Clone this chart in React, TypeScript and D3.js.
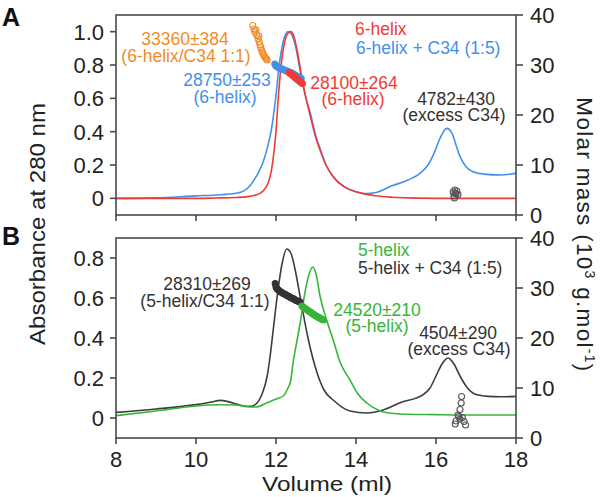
import React from "react";
import * as d3 from "d3";

type P = [number, number];

const volumeTicks = [8, 10, 12, 14, 16, 18];
const absTicksA = [0, 0.2, 0.4, 0.6, 0.8, 1.0];
const absTicksB = [0, 0.2, 0.4, 0.6, 0.8];
const massTicks = [0, 10, 20, 30, 40];

// Panel A absorbance traces [volume ml, A280]
const sixHelix: P[] = [
  [8.0, 0.0], [9.0, 0.0], [10.0, 0.0], [10.5, 0.002], [11.0, 0.005], [11.3, 0.01], [11.5, 0.02],
  [11.6, 0.03], [11.7, 0.05], [11.8, 0.09], [11.88, 0.16], [11.95, 0.28], [12.0, 0.4], [12.05, 0.58],
  [12.12, 0.78], [12.2, 0.92], [12.3, 0.99], [12.37, 1.0], [12.45, 0.97], [12.55, 0.86], [12.65, 0.72],
  [12.75, 0.6], [12.85, 0.5], [13.0, 0.36], [13.1, 0.29], [13.25, 0.2], [13.43, 0.13], [13.7, 0.07],
  [14.0, 0.04], [14.5, 0.015], [15.0, 0.005], [16.0, 0.0], [17.0, 0.0], [18.0, 0.0],
];
const sixHelixC34: P[] = [
  [8.0, 0.0], [9.0, 0.003], [10.0, 0.015], [10.5, 0.02], [11.0, 0.03], [11.2, 0.045], [11.35, 0.075],
  [11.45, 0.11], [11.55, 0.15], [11.68, 0.22], [11.78, 0.3], [11.89, 0.42], [11.99, 0.6], [12.08, 0.8],
  [12.18, 0.94], [12.3, 1.0], [12.4, 0.98], [12.5, 0.9], [12.6, 0.77], [12.75, 0.6], [12.85, 0.52],
  [13.0, 0.37], [13.1, 0.3], [13.25, 0.2], [13.43, 0.13], [13.7, 0.07], [14.0, 0.04], [14.25, 0.028],
  [14.5, 0.035], [14.9, 0.075], [15.3, 0.11], [15.6, 0.15], [15.8, 0.2], [15.95, 0.27], [16.1, 0.36],
  [16.27, 0.42], [16.4, 0.39], [16.5, 0.32], [16.6, 0.25], [16.75, 0.19], [16.93, 0.16], [17.2, 0.145],
  [17.6, 0.14], [18.0, 0.15],
];

// Panel B absorbance traces
const fiveHelixC34: P[] = [
  [8.0, 0.028], [9.0, 0.045], [10.0, 0.067], [10.4, 0.08], [10.6, 0.088], [10.8, 0.082], [11.0, 0.07],
  [11.2, 0.06], [11.35, 0.058], [11.5, 0.07], [11.65, 0.12], [11.78, 0.21], [11.86, 0.32], [11.93, 0.44],
  [12.05, 0.64], [12.15, 0.77], [12.27, 0.845], [12.38, 0.82], [12.5, 0.72], [12.6, 0.61], [12.8, 0.4],
  [13.02, 0.23], [13.2, 0.14], [13.43, 0.09], [13.85, 0.035], [14.27, 0.025], [14.68, 0.04], [15.1, 0.076],
  [15.68, 0.117], [15.85, 0.15], [16.0, 0.21], [16.15, 0.27], [16.3, 0.3], [16.45, 0.27], [16.6, 0.21],
  [16.75, 0.16], [17.0, 0.117], [17.3, 0.108], [17.6, 0.106], [18.0, 0.108],
];
const fiveHelix: P[] = [
  [8.0, 0.012], [9.0, 0.035], [10.0, 0.06], [10.5, 0.066], [11.0, 0.065], [11.3, 0.056], [11.5, 0.055],
  [11.77, 0.076], [12.0, 0.095], [12.18, 0.11], [12.3, 0.15], [12.36, 0.18], [12.43, 0.28], [12.5, 0.36],
  [12.6, 0.47], [12.7, 0.6], [12.8, 0.7], [12.92, 0.755], [13.0, 0.72], [13.1, 0.61], [13.25, 0.5],
  [13.43, 0.39], [13.6, 0.28], [13.85, 0.19], [14.05, 0.12], [14.27, 0.075], [14.5, 0.045], [14.68, 0.03],
  [15.1, 0.02], [16.0, 0.017], [17.0, 0.015], [18.0, 0.015],
];

// Molar mass points [volume ml, kg/mol]
const massA_orange: P[] = [
  [11.42, 37.9], [11.45, 37.2], [11.47, 36.6], [11.5, 37.0], [11.52, 36.0], [11.55, 35.3], [11.57, 35.8],
  [11.58, 34.6], [11.6, 34.0], [11.62, 33.5], [11.64, 33.0], [11.66, 32.6], [11.68, 32.2], [11.7, 31.9],
  [11.72, 31.6], [11.74, 31.4], [11.76, 31.2], [11.78, 31.0],
];
const massA_blue: P[] = [
  [11.97, 30.2], [12.0, 29.8], [12.03, 29.7], [12.06, 29.5], [12.09, 29.4], [12.12, 29.3], [12.15, 29.2],
  [12.18, 29.1], [12.21, 29.0], [12.24, 28.9], [12.27, 28.8], [12.3, 28.7], [12.33, 28.6], [12.36, 28.5],
  [12.39, 28.4], [12.42, 28.3], [12.45, 28.1], [12.48, 28.0], [12.51, 27.8], [12.54, 27.7], [12.57, 27.6],
  [12.6, 27.4], [12.63, 27.3],
];
const massA_red: P[] = [
  [12.33, 28.5], [12.36, 28.3], [12.39, 28.1], [12.42, 27.9], [12.45, 27.7], [12.48, 27.5], [12.51, 27.3],
  [12.54, 27.1], [12.57, 26.9], [12.6, 26.7], [12.63, 26.5], [12.66, 26.3],
];
const massA_excess: P[] = [
  [16.43, 4.6], [16.47, 5.0], [16.5, 4.2], [16.45, 3.8], [16.52, 4.8], [16.48, 4.4], [16.55, 4.1], [16.46, 3.4],
];
const massB_complex: P[] = [
  [11.98, 30.9], [12.0, 30.2], [12.03, 29.8], [12.06, 29.6], [12.09, 29.4], [12.12, 29.2], [12.15, 29.1],
  [12.18, 28.9], [12.21, 28.8], [12.24, 28.7], [12.27, 28.5], [12.3, 28.4], [12.33, 28.3], [12.36, 28.1],
  [12.39, 28.0], [12.42, 27.9], [12.45, 27.8], [12.48, 27.6], [12.51, 27.5], [12.54, 27.4], [12.57, 27.3],
  [12.6, 27.2],
];
const massB_green: P[] = [
  [12.65, 26.4], [12.68, 26.2], [12.71, 26.0], [12.74, 25.8], [12.77, 25.7], [12.8, 25.5], [12.83, 25.3],
  [12.86, 25.2], [12.89, 25.0], [12.92, 24.8], [12.95, 24.7], [12.98, 24.5], [13.01, 24.4], [13.04, 24.2],
  [13.07, 24.1], [13.1, 24.0], [13.13, 23.8], [13.16, 23.7], [13.19, 23.6],
];
const massB_excess: P[] = [
  [16.64, 8.3], [16.63, 7.0], [16.6, 5.7], [16.57, 4.3], [16.55, 4.6], [16.5, 3.4], [16.48, 2.8],
  [16.7, 3.3], [16.66, 4.1], [16.74, 2.6], [16.6, 3.8],
];

const RED = "#ef3b36";
const BLUE = "#4390ec";
const ORANGE = "#f28c28";
const GREEN = "#36b53a";
const DARK = "#3d3d3d";
const AXIS = "#4a4a4a";
const FONT = "'Liberation Sans', Arial, Helvetica, sans-serif";

const x = d3.scaleLinear().domain([8, 18]).range([116, 516]);

function Panel(props: {
  top: number;
  bottom: number;
  absDomain: [number, number];
  absTicks: number[];
  xLabels: boolean;
  traces: { data: P[]; color: string }[];
  dots: { data: P[]; color: string; filled: boolean }[];
}) {
  const { top, bottom, absDomain, absTicks, xLabels, traces, dots } = props;
  const y = d3.scaleLinear().domain(absDomain).range([bottom, top]);
  const m = d3.scaleLinear().domain([0, 40]).range([bottom, top]);
  const line = d3
    .line<P>()
    .x((d) => x(d[0]))
    .y((d) => y(d[1]))
    .curve(d3.curveMonotoneX);
  return (
    <g>
      <defs>
        <clipPath id={"clip" + top}>
          <rect x={116} y={top} width={400} height={bottom - top} />
        </clipPath>
      </defs>
      <g clipPath={`url(#clip${top})`}>
        {traces.map((t, i) => (
          <path key={i} d={line(t.data) || ""} fill="none" stroke={t.color} strokeWidth={1.6} />
        ))}
      </g>
      {dots.map((s, i) => (
        <g key={i}>
          {s.data.map((d, j) => (
            <circle
              key={j}
              cx={x(d[0])}
              cy={m(d[1])}
              r={3}
              fill={s.filled ? s.color : "none"}
              stroke={s.color}
              strokeWidth={1.1}
            />
          ))}
        </g>
      ))}
      <rect x={116} y={top} width={400} height={bottom - top} fill="none" stroke={AXIS} strokeWidth={1.6} />
      {volumeTicks.map((v) => (
        <g key={v}>
          <line x1={x(v)} x2={x(v)} y1={bottom} y2={bottom + 6} stroke={AXIS} strokeWidth={1.6} />
          {xLabels && (
            <text x={x(v)} y={bottom + 29} textAnchor="middle" fontSize={22} fill="#222">
              {v}
            </text>
          )}
        </g>
      ))}
      {absTicks.map((v) => (
        <g key={v}>
          <line x1={110} x2={116} y1={y(v)} y2={y(v)} stroke={AXIS} strokeWidth={1.6} />
          <text x={104} y={y(v)} dy="0.36em" textAnchor="end" fontSize={22} fill="#222">
            {v === 0 ? "0" : v.toFixed(1)}
          </text>
        </g>
      ))}
      {massTicks.map((v) => (
        <g key={v}>
          <line x1={516} x2={523} y1={m(v)} y2={m(v)} stroke={AXIS} strokeWidth={1.6} />
          <text x={530} y={m(v)} dy="0.36em" textAnchor="start" fontSize={22} fill="#222">
            {v}
          </text>
        </g>
      ))}
    </g>
  );
}

export default function App() {
  return (
    <svg
      width={600}
      height={497}
      style={{ position: "absolute", left: 0, top: 0, background: "#fff" }}
      fontFamily={FONT}
    >
      <rect width={600} height={497} fill="#fff" />
      <Panel
        top={15}
        bottom={215}
        absDomain={[-0.1, 1.1]}
        absTicks={absTicksA}
        xLabels={false}
        traces={[
          { data: sixHelixC34, color: BLUE },
          { data: sixHelix, color: RED },
        ]}
        dots={[
          { data: massA_orange, color: ORANGE, filled: false },
          { data: massA_blue, color: BLUE, filled: true },
          { data: massA_red, color: RED, filled: true },
          { data: massA_excess, color: "#555", filled: false },
        ]}
      />
      <Panel
        top={238}
        bottom={438}
        absDomain={[-0.1, 0.9]}
        absTicks={absTicksB}
        xLabels={true}
        traces={[
          { data: fiveHelixC34, color: DARK },
          { data: fiveHelix, color: GREEN },
        ]}
        dots={[
          { data: massB_complex, color: "#333", filled: true },
          { data: massB_green, color: GREEN, filled: true },
          { data: massB_excess, color: "#555", filled: false },
        ]}
      />

      {/* Panel letters */}
      <text x={2} y={26} fontSize={25} fontWeight="bold" fill="#111">A</text>
      <text x={2} y={245} fontSize={25} fontWeight="bold" fill="#111">B</text>

      {/* Panel A annotations */}
      <g fontSize={17.5} textAnchor="middle">
        <text x={185} y={45} fill={ORANGE}>33360±384</text>
        <text x={186} y={62} fill={ORANGE}>(6-helix/C34 1:1)</text>
        <text x={227} y={86} fill={BLUE}>28750±253</text>
        <text x={225} y={103} fill={BLUE}>(6-helix)</text>
        <text x={354} y={89} fill={RED}>28100±264</text>
        <text x={353} y={105} fill={RED}>(6-helix)</text>
        <text x={456} y={105} fill="#333">4782±430</text>
        <text x={454} y={121} fill="#333">(excess C34)</text>
        <text x={355} y={35} fill={RED} textAnchor="start">6-helix</text>
        <text x={356} y={54} fill={BLUE} textAnchor="start">6-helix + C34 (1:5)</text>
      </g>

      {/* Panel B annotations */}
      <g fontSize={17.5} textAnchor="middle">
        <text x={207} y={290} fill="#333">28310±269</text>
        <text x={205} y={307} fill="#333">(5-helix/C34 1:1)</text>
        <text x={358} y={256} fill={GREEN} textAnchor="start">5-helix</text>
        <text x={358} y={274} fill="#333" textAnchor="start">5-helix + C34 (1:5)</text>
        <text x={377} y={316} fill={GREEN}>24520±210</text>
        <text x={377} y={332} fill={GREEN}>(5-helix)</text>
        <text x={458} y={339} fill="#333">4504±290</text>
        <text x={459} y={355} fill="#333">(excess C34)</text>
      </g>

      {/* Axis titles */}
      <text
        transform="translate(45,224) rotate(-90)"
        textAnchor="middle"
        fontSize={22}
        fill="#222"
        textLength={242}
        lengthAdjust="spacingAndGlyphs"
      >
        Absorbance at 280 nm
      </text>
      <text
        transform="translate(577,235) rotate(90)"
        textAnchor="middle"
        fontSize={22.5}
        fill="#222"
        letterSpacing={1.3}
      >
        Molar mass (10
        <tspan fontSize={14} dy={-8}>3</tspan>
        <tspan dy={8}> g.mol</tspan>
        <tspan fontSize={14} dy={-8}>-1</tspan>
        <tspan dy={8}>)</tspan>
      </text>
      <text
        x={327}
        y={491}
        textAnchor="middle"
        fontSize={21}
        fill="#222"
        textLength={130}
        lengthAdjust="spacingAndGlyphs"
      >
        Volume (ml)
      </text>
    </svg>
  );
}
